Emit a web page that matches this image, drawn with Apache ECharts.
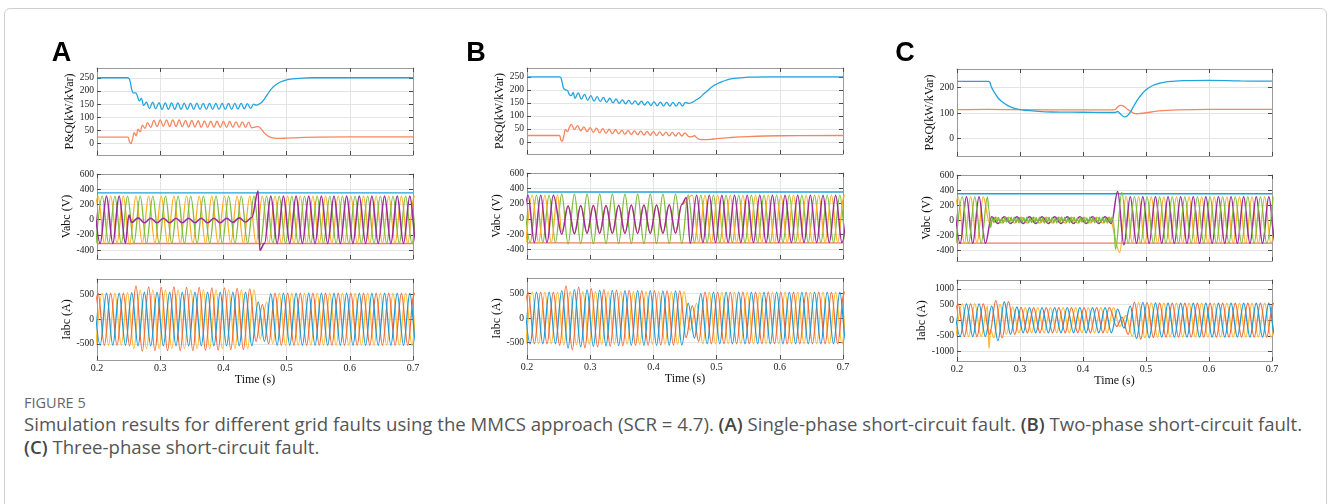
<!DOCTYPE html>
<html><head><meta charset="utf-8">
<script src="https://cdn.jsdelivr.net/npm/echarts@6/dist/echarts.min.js"></script>
<style>
html,body{margin:0;padding:0;background:#fff;width:1328px;height:504px;overflow:hidden;}
#frame{position:absolute;left:4px;top:8px;width:1323px;height:530px;border:1px solid #cfcfcf;border-radius:6px;box-sizing:border-box;}
#chart{position:absolute;left:0;top:0;width:1328px;height:392px;}
#cap{position:absolute;left:24px;top:394px;width:1300px;font-family:'Open Sans',sans-serif;color:#555;white-space:nowrap;}
#cap .fig{font-size:14.5px;line-height:18px;color:#666;}
#cap .txt{font-size:18.6px;line-height:23px;}
#cap b{font-weight:600;color:#444;}
</style></head>
<body>
<div id="frame"></div>
<div id="chart"></div>
<div id="cap"><div class="fig">FIGURE 5</div><div class="txt">Simulation results for different grid faults using the MMCS approach (SCR = 4.7). <b>(A)</b> Single-phase short-circuit fault. <b>(B)</b> Two-phase short-circuit fault.<br><b>(C)</b> Three-phase short-circuit fault.</div></div>
<script>
// ---------------- data ----------------
const HALF = 0.01; // half period of the 50 Hz waveforms (s)
const xTicks = [0.2, 0.3, 0.4, 0.5, 0.6, 0.7];
const pqTicksAB = [0, 50, 100, 150, 200, 250];
const pqTicksC = [0, 100, 200];
const vTicks = [-400, -200, 0, 200, 400, 600];
const iTicksAB = [-500, 0, 500];
const iTicksC = [-1000, -500, 0, 500, 1000];
const pqRange = { A: [-43, 287], B: [-46, 284], C: [-69, 273] };
const vRange = { A: [-515, 600], B: [-525, 600], C: [-545, 600] };
const iRange = { A: [-830, 820], B: [-840, 820], C: [-1300, 1280] };
const vRefHigh = { A: 352, B: 351, C: 350 };
const vRefLow = { A: -312, B: -315, C: -308 };

// P & Q  ([time, value])
const pA_P = [[0.2,250],[0.249,250],[0.252,240],[0.255,205],[0.258,192],[0.261,193],[0.264,180],[0.267,162],[0.27,172],[0.274,145],[0.278,157],
[0.283,133],[0.288,157],[0.293,132],[0.298,156],[0.303,130],[0.308,155],[0.313,130],[0.318,155],[0.323,130],[0.328,155],[0.333,130],[0.338,154],[0.343,130],[0.348,154],[0.353,130],[0.358,154],[0.363,130],[0.368,153],[0.373,130],[0.378,153],[0.383,130],[0.388,153],[0.393,130],[0.398,153],[0.403,130],[0.408,153],[0.413,130],[0.418,153],[0.423,131],[0.428,153],[0.433,132],[0.438,152],[0.443,134],[0.448,150],
[0.452,146],[0.456,150],[0.46,155],[0.465,170],[0.47,188],[0.475,205],[0.48,218],[0.49,234],[0.5,242],[0.51,246],[0.52,248],[0.54,250],[0.7,250]];
const pA_Q = [[0.2,25],[0.249,25],[0.251,10],[0.2535,0],[0.256,15],[0.259,42],[0.262,30],[0.265,55],[0.268,45],[0.272,70],[0.276,58],
[0.28,80],[0.285,62],[0.29,88],[0.295,65],[0.3,90],[0.305,66],[0.31,90],[0.315,65],[0.32,90],[0.325,65],[0.33,90],[0.335,64],[0.34,88],[0.345,63],[0.35,88],[0.355,63],[0.36,87],[0.365,62],[0.37,86],[0.375,62],[0.38,85],[0.385,62],[0.39,85],[0.395,62],[0.4,84],[0.405,62],[0.41,84],[0.415,62],[0.42,83],[0.425,62],[0.43,83],[0.435,62],[0.44,82],[0.445,60],
[0.45,63],[0.455,65],[0.46,55],[0.465,40],[0.47,30],[0.475,24],[0.48,21],[0.49,20],[0.5,21],[0.52,23],[0.55,25],[0.7,26]];
const pB_P = [[0.2,250],[0.252,250],[0.255,235],[0.258,205],[0.261,200],[0.264,198],[0.267,182],[0.27,178],[0.273,190],
[0.276,168],[0.281,188],[0.286,165],[0.291,183],[0.296,160],[0.301,178],[0.306,157],[0.311,174],[0.316,155],[0.321,171],[0.326,152],[0.331,168],[0.336,150],[0.341,165],[0.346,148],[0.351,162],[0.356,146],[0.361,160],[0.366,145],[0.371,158],[0.376,143],[0.381,157],[0.386,142],[0.391,155],[0.396,140],[0.401,154],[0.406,139],[0.411,153],[0.416,138],[0.421,152],[0.426,138],[0.431,152],[0.436,138],[0.441,152],[0.446,138],[0.451,152],
[0.456,148],[0.462,153],[0.468,162],[0.474,172],[0.48,185],[0.487,200],[0.494,214],[0.5,222],[0.507,230],[0.515,237],[0.525,243],[0.537,246],[0.55,249],[0.58,250],[0.7,250]];
const pB_Q = [[0.2,25],[0.251,25],[0.2535,8],[0.2555,3],[0.258,20],[0.261,47],[0.264,40],[0.267,56],[0.27,68],[0.275,48],
[0.28,63],[0.285,43],[0.29,58],[0.295,40],[0.3,55],[0.305,37],[0.31,53],[0.315,35],[0.32,51],[0.325,33],[0.33,49],[0.335,32],[0.34,47],[0.345,31],[0.35,45],[0.355,30],[0.36,44],[0.365,29],[0.37,43],[0.375,28],[0.38,42],[0.385,27],[0.39,41],[0.395,26],[0.4,40],[0.405,25],[0.41,39],[0.415,25],[0.42,38],[0.425,24],[0.43,37],[0.435,23],[0.44,36],[0.445,23],[0.45,35],[0.455,22],
[0.459,20],[0.462,22],[0.465,24],[0.468,18],[0.473,10],[0.48,9],[0.49,10],[0.5,13],[0.52,17],[0.55,21],[0.6,24],[0.7,25]];
const pC_P = [[0.2,224],[0.25,224],[0.255,200],[0.26,178],[0.265,160],[0.27,147],[0.28,130],[0.29,119],[0.3,113],[0.31,110],[0.32,108],[0.35,104],[0.4,103],[0.45,102],[0.452,103],[0.455,106],[0.458,100],[0.462,90],[0.466,85],[0.47,88],[0.475,103],[0.48,125],[0.485,146],[0.49,164],[0.5,191],[0.51,207],[0.52,216],[0.53,221],[0.54,224],[0.56,227],[0.6,228],[0.65,226],[0.7,225]];
const pC_Q = [[0.2,113],[0.25,114],[0.3,113],[0.4,112],[0.45,112],[0.452,115],[0.455,124],[0.46,130],[0.465,126],[0.47,116],[0.475,107],[0.48,100],[0.485,97],[0.49,98],[0.5,101],[0.52,108],[0.55,112],[0.6,114],[0.7,114]];

// Waveforms: runs of [first point time, successive extrema, optional step (default HALF)]
const vA_yellow = [[0.19167, [-310,310,-310,310,-310,310,-325,
310,-310,310,-310,310,-310,310,-310,310,-310,
310,-310,310,-310,310,-310,310,-310,310,-310,
310,-310,310,-310,310,-310,310,-310,310,-310,
310,-310,310,-310,310,-310,310,-310,310,-310,
310,-310,310,-310,310,-310]]];
const vA_green = [[0.19833, [-310,310,-310,310,-310,310,-310,310,-310,310,
-310,310,-310,310,-310,310,-310,310,-310,310,
-310,310,-310,310,-310,310,
-330,
310,-310,310,-310,310,-310,310,-310,310,-310,
310,-310,310,-310,310,-310,310,-310,310,-310,
310,-310,310,-310,310,-310]]];
const vA_purple = [[0.195, [310,-310,310,-310,310,-310,
-35,25,-40,20,-40,20,-40,20,-40,20,
-40,20,-40,20,-40,20,-35,25,-30,30,
380,
-310,310,-310,310,-310,310,-310,310,-310,310,
-310,310,-310,310,-310,310,-310,310,-310,310,
-310,310,-310,310,-310,310]], [0.2505, [60]], [0.4575, [-400]]];
const iA_orange = [[0.19167, [-530,530,-530,530,-530,530,
-540,680,-650,660,-640,650,-640,660,-640,650,
-640,650,-630,640,-630,640,-620,630,-620,620,
-450,300,-500,530,
-530,530,-530,530,-530,530,-530,530,-530,530,
-530,530,-530,530,-530,530,-530,530,-530,530,
-530,530,-530]]];
const iA_yellow = [[0.19833, [-530,530,-530,530,-530,540,
-600,600,-600,600,-600,600,-600,600,-600,600,
-600,600,-600,600,-600,600,-600,600,-600,600,
-400,350,-500,530,
-530,530,-530,530,-530,530,-530,530,-530,530,
-530,530,-530,530,-530,530,-530,530,-530,530,
-530,530,-530]]];
const iA_blue = [[0.195, [530,-530,530,-530,530,-530,
540,-540,550,-540,550,-540,550,-540,550,-540,
550,-540,550,-540,550,-540,550,-540,550,-540,
350,-450,520,-530,
530,-530,530,-530,530,-530,530,-530,530,-530,
530,-530,530,-530,530,-530,530,-530,530,-530,
530,-530,530]]];

const vB_green = [[0.195, [310,-310,310,-310,310,-310,
325,-330,325,-325,325,-325,325,-325,325,-325,
325,-325,325,-325,325,-325,325,-325,325,-325,
315,
-310,310,-310,310,-310,310,-310,310,-310,310,
-310,310,-310,310,-310,310,-310,310,-310,310,
-310,310,-310,310,-310,310]]];
const vB_yellow = [[0.19833, [-310,310,-310,310,-310,310]],
[0.255, [-170,165,-185,175,-185,178,-185,180,-185,180,-185,182,-185,182,-185,185,-185,188,-185,190]],
[0.46167, [310,-310,310,-310,310,-310,310,-310,310,-310,310,-310,310,-310,310,-310,310,-310,310,-310,310,-310,310,-310,310,-310]]];
const vB_purple = [[0.19167, [-310,310,-310,310,-310,310]],
[0.255, [-200,170,-195,175,-190,175,-190,175,-190,178,-190,180,-190,180,-190,182,-190,185,-188,190]],
[0.452, [280]],
[0.45833, [-320,310,-310,310,-310,310,-310,310,-310,310,-310,310,-310,310,-310,310,-310,310,-310,310,-310,310,-310,310,-310,310]]];
const iB_orange = [[0.19167, [-530,530,-530,530,-530,530,
-560,660,-650,635,-610,600,-590,580,-575,570,
-565,565,-560,560,-560,560,-555,555,-555,555,
-400,250,-480,
530,-530,530,-530,530,-530,530,-530,530,-530,
530,-530,530,-530,530,-530,530,-530,530,-530,
530,-530,530,-530]]];
const iB_yellow = [[0.19833, [-530,530,-530,530,-530,530,
-550,540,-545,540,-540,540,-540,540,-540,540,
-540,540,-540,540,-540,540,-540,540,-540,540,
-250,300,
-530,530,-530,530,-530,530,-530,530,-530,530,
-530,530,-530,530,-530,530,-530,530,-530,530,
-530,530,-530,530,-530]]];
const iB_blue = [[0.195, [530,-530,530,-530,530,-530,
560,-615,580,-590,575,-580,570,-570,565,-565,
560,-560,560,-560,560,-560,558,-558,555,-555,
300,-410,500,
-530,530,-530,530,-530,530,-530,530,-530,530,
-530,530,-530,530,-530,530,-530,530,-530,530,
-530,530,-530,530]]];

const vC_yellow = [[0.19167, [-310,310,-310,310,-310,310]],
[0.25167, [-40,40,-40,40,-40,40,-40,40,-40,40,-40,40,-40,40,-40,40,-40,40,-40,40]],
[0.45833, [-430,320,-310,310,-310,310,-310,310,-310,310,-310,310,-310,310,-310,310,-310,310,-310,310,-310,310,-310,310,-310,310]]];
const vC_purple = [[0.195, [310,-310,310,-310,310,-310,
45,-45,45,-45,45,-45,45,-45,45,-45,
45,-45,45,-45,45,-45,45,-45,45,-45,
380,-330,
310,-310,310,-310,310,-310,310,-310,310,-310,
310,-310,310,-310,310,-310,310,-310,310,-310,
310,-310,310,-310,310]]];
const vC_green = [[0.19833, [-310,310,-310,310,-310,310]], [0.2505, [140]], [0.2535, [-100]],
[0.256, [30,-35,40,-28,35,-40,25,-38,42,-30, 28,-36,38,-25,40,-35,30,-42,35,-28,
36,-30,42,-38,25,-35,40,-30,32,-40, 38,-26,35,-42,30,-35,40,-28,36,-38,
28,-40,35,-30,42,-25,38,-36,30,-40, 35,-28,40,-35,26,-42,38,-30,35,-38,
30,-40,42,-28,36,-35,25,-40,38,-30, 40,-36,30,-42,35,-28,38,-35], 0.0025],
[0.45167, [-390,370,-310,310,-310,310,-310,310,-310,310,-310,310,-310,310,-310,310,-310,310,-310,310,-310,310,-310,310,-310,310]]];
const iC_orange = [[0.19167, [-520,520,-520,520,-520,520]],
[0.25167, [-450,620,-560,590,-450,410,-400,400,-400,400,-400,400,-400,400,-400,400,-400,400,-400,400]],
[0.4537, [-200]], [0.4617, [100]],
[0.47167, [-450,570,-600,560,-550,540,-540,540,-540,540,-540,540,-540,540,-540,540,-540,540,-540,540,-540,540,-540,540,-540]]];
const iC_yellow = [[0.19833, [-520,520,-520,520,-520]], [0.2483, [450]], [0.2508, [-900]], [0.2532, [-300]],
[0.25833, [-560,500,-450,420,-400,400,-400,400,-400,400,-400,400,-400,400,-400,400,-400,400,-400,400]],
[0.45833, [-200]], [0.46833, [150]],
[0.47833, [-520,560,-560,550,-540,540,-540,540,-540,540,-540,540,-540,540,-540,540,-540,540,-540,540,-540,540,-540,540]]];
const iC_blue = [[0.195, [520,-520,520,-520,520,-520,
450,-650,580,-450,420,
-400,400,-400,400,-400,400,-400,400,-400,400,-400,400,-400,400,-400,
350,-250,450,-580,570,-560,550,
-540,540,-540,540,-540,540,-540,540,-540,540,
-540,540,-540,540,-540,540,-540,540,-540,540]]];

// ---------------- build ----------------
function fromRuns(runs) {
  const pts = [];
  runs.forEach(function (run) {
    const step = run[2] || HALF;
    run[1].forEach(function (v, i) { pts.push([Math.round((run[0] + i * step) * 1e5) / 1e5, v]); });
  });
  pts.sort(function (a, b) { return a[0] - b[0]; });
  return pts;
}

const C = {
  P: '#24a4dd', Q: '#f6865f',
  vy: '#ffac22', vg: '#7cbc3c', vp: '#9a2d9c', refH: '#1ea0da', refL: '#f47b5c',
  ib: '#1d9bd6', io: '#f26c3d', iy: '#ffbb2d'
};
const SERIF = '"Liberation Serif","Times New Roman",serif';

const panels = [
  { key: 'A', left: 97, width: 316, tops: [68, 174, 279], heights: [87, 85, 81], letterX: 61.5, pqTicks: pqTicksAB, iTicks: iTicksAB,
    pq: [pA_P, pA_Q], v: [[vA_yellow, C.vy, 1.3], [vA_green, C.vg, 1.3], [vA_purple, C.vp, 1.6]],
    i: [[iA_yellow, C.iy, 1.3], [iA_orange, C.io, 1.3], [iA_blue, C.ib, 1.3]] },
  { key: 'B', left: 527, width: 316, tops: [68, 173, 278], heights: [86, 86, 81], letterX: 476, pqTicks: pqTicksAB, iTicks: iTicksAB,
    pq: [pB_P, pB_Q], v: [[vB_green, C.vg, 1.3], [vB_yellow, C.vy, 1.3], [vB_purple, C.vp, 1.5]],
    i: [[iB_yellow, C.iy, 1.3], [iB_orange, C.io, 1.3], [iB_blue, C.ib, 1.3]] },
  { key: 'C', left: 957, width: 315, tops: [69, 175, 280], heights: [87, 86, 81], letterX: 905, pqTicks: pqTicksC, iTicks: iTicksC,
    pq: [pC_P, pC_Q], v: [[vC_yellow, C.vy, 1.3], [vC_purple, C.vp, 1.5], [vC_green, C.vg, 1.3]],
    i: [[iC_yellow, C.iy, 1.3], [iC_orange, C.io, 1.3], [iC_blue, C.ib, 1.3]] }
];

const grid = [], xAxis = [], yAxis = [], series = [], graphic = [];
const axisLineStyle = { color: '#9a9a9a', width: 1 };
const tickStyle = { color: '#4a4a4a', width: 1 };
const splitStyle = { color: '#e4e4e4', width: 1 };

panels.forEach(function (p) {
  graphic.push({ type: 'text', x: p.letterX, y: 54, style: { text: p.key, font: 'bold 27px "Liberation Sans", Arial, sans-serif', fill: '#000', align: 'center', verticalAlign: 'middle' } });
  const rows = [
    { name: 'P&Q(kW/kVar)', range: pqRange[p.key], ticks: p.pqTicks },
    { name: 'Vabc (V)', range: vRange[p.key], ticks: vTicks },
    { name: 'Iabc (A)', range: iRange[p.key], ticks: p.iTicks }
  ];
  rows.forEach(function (row, r) {
    const g = grid.length;
    grid.push({ left: p.left, top: p.tops[r], width: p.width, height: p.heights[r] });
    const bottom = r === 2;
    xAxis.push({ gridIndex: g, type: 'value', min: xTicks[0], max: xTicks[xTicks.length - 1], interval: 0.1, position: 'bottom',
      axisLine: { show: true, onZero: false, lineStyle: axisLineStyle },
      axisTick: { show: true, inside: true, length: 4, lineStyle: tickStyle },
      axisLabel: { show: bottom, margin: 3, fontFamily: SERIF, fontSize: 10, color: '#222', formatter: function (v) { return String(Math.round(v * 10) / 10); } },
      splitLine: { show: true, lineStyle: splitStyle },
      name: bottom ? 'Time (s)' : '', nameLocation: 'middle', nameGap: 12,
      nameTextStyle: { fontFamily: SERIF, fontSize: 12, color: '#111' } });
    xAxis.push({ gridIndex: g, type: 'value', min: xTicks[0], max: xTicks[xTicks.length - 1], interval: 0.1, position: 'top',
      axisLine: { show: true, onZero: false, lineStyle: axisLineStyle },
      axisTick: { show: true, inside: true, length: 4, lineStyle: tickStyle },
      axisLabel: { show: false }, splitLine: { show: false } });
    yAxis.push({ gridIndex: g, type: 'value', min: row.range[0], max: row.range[1], position: 'left',
      axisLine: { show: true, onZero: false, lineStyle: axisLineStyle },
      axisTick: { show: true, inside: true, length: 4, lineStyle: tickStyle, customValues: row.ticks },
      axisLabel: { show: true, margin: 3, fontFamily: SERIF, fontSize: 9.5, color: '#222', customValues: row.ticks, formatter: function (v) { return String(v); } },
      splitLine: { show: true, lineStyle: splitStyle },
      name: row.name, nameLocation: 'middle', nameGap: 21,
      nameTextStyle: { fontFamily: SERIF, fontSize: 12, color: '#111' } });
    yAxis.push({ gridIndex: g, type: 'value', min: row.range[0], max: row.range[1], position: 'right',
      axisLine: { show: true, onZero: false, lineStyle: axisLineStyle },
      axisTick: { show: true, inside: true, length: 4, lineStyle: tickStyle, customValues: row.ticks },
      axisLabel: { show: false }, splitLine: { show: false } });
    const xi = 2 * g, yi = 2 * g;
    function line(data, color, width, wave) {
      return { type: 'line', xAxisIndex: xi, yAxisIndex: yi, data: data, symbol: 'none', showSymbol: false,
        smooth: wave ? 0.36 : 0.4, smoothMonotone: wave ? 'x' : undefined, clip: true, animation: false, silent: true,
        lineStyle: { color: color, width: width } };
    }
    if (r === 0) {
      series.push(line(p.pq[1], C.Q, 1.3, false));
      series.push(line(p.pq[0], C.P, 1.3, false));
    } else if (r === 1) {
      series.push(line([[xTicks[0], vRefHigh[p.key]], [xTicks[xTicks.length - 1], vRefHigh[p.key]]], C.refH, 1.4, false));
      series.push(line([[xTicks[0], vRefLow[p.key]], [xTicks[xTicks.length - 1], vRefLow[p.key]]], C.refL, 1.3, false));
      p.v.forEach(function (w) { series.push(line(fromRuns(w[0]), w[1], w[2], true)); });
    } else {
      p.i.forEach(function (w) { series.push(line(fromRuns(w[0]), w[1], w[2], true)); });
    }
  });
});

const chart = echarts.init(document.getElementById('chart'), null, { renderer: 'canvas' });
chart.setOption({ animation: false, backgroundColor: 'transparent', grid: grid, xAxis: xAxis, yAxis: yAxis, series: series, graphic: graphic });
</script>
</body></html>
